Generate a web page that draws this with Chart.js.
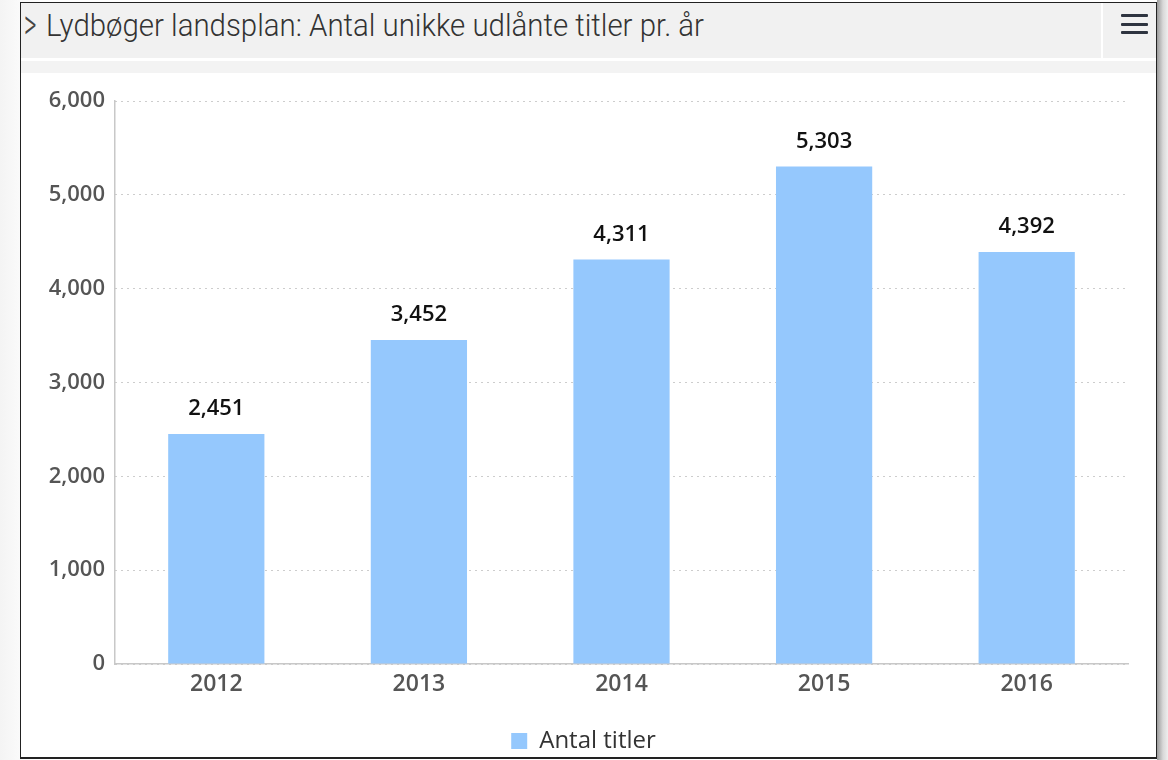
<!DOCTYPE html>
<html><head><meta charset="utf-8">
<script src="https://cdn.jsdelivr.net/npm/chart.js@4"></script>
<style>
html,body{margin:0;padding:0;width:1168px;height:760px;overflow:hidden;background:#fff;}
#shadow{position:absolute;left:0;top:0;width:1168px;height:760px;background:linear-gradient(to right,#f4f4f4 0,#fafafa 20px,#fff 40px);}
#shadowR{position:absolute;left:1157px;top:0;width:11px;height:760px;background:linear-gradient(to right,#9a9a9a,#d8d8d8 6px,#eee);}
#frame{position:absolute;left:20px;top:2px;width:1135px;height:754px;border:1.5px solid #222;border-bottom:2px solid #222;background:#fff;}
#titlebar{position:absolute;left:0;top:0;width:1080px;height:55px;background:#f1f1f1;}
#menu{position:absolute;left:1082px;top:0;width:53px;height:55px;background:#f1f1f1;}
#band{position:absolute;left:0;top:58px;width:1135px;height:12px;background:#f3f3f3;}
#chev{position:absolute;left:3px;top:0px;font-family:Roboto,sans-serif;font-weight:300;font-size:32px;line-height:44px;color:#444;transform-origin:0 50%;transform:scale(0.75,1.3);}
#title{position:absolute;left:25px;top:0px;font-family:Roboto,"Noto Sans",sans-serif;font-weight:300;font-size:32px;line-height:44px;color:#333;white-space:nowrap;transform-origin:0 0;}
.hb{position:absolute;left:18px;width:27px;height:2.5px;background:#2e3440;border-radius:1px;}
#wrap{position:absolute;left:0;top:70px;width:1135px;height:690px;}
</style></head>
<body>
<div id="shadow"></div><div id="shadowR"></div>
<div id="frame">
  <div id="titlebar"><div id="chev">&gt;</div><div id="title">Lydbøger landsplan: Antal unikke udlånte titler pr. år</div></div>
  <div id="menu"><div class="hb" style="top:11px"></div><div class="hb" style="top:20px"></div><div class="hb" style="top:28px"></div></div>
  <div id="band"></div>
  <div id="wrap"><canvas id="c" width="1135" height="690"></canvas></div>
</div>
<script>
const categories = ["2012","2013","2014","2015","2016"];
const seriesName = "Antal titler";
const values = [2451, 3452, 4311, 5303, 4392];
const yTicks = [0,1000,2000,3000,4000,5000,6000];

(function(){const t=document.getElementById('title');const w=t.getBoundingClientRect().width;t.style.transform='scaleX('+(658/w)+')';})();

const fmt = v => v.toLocaleString('en-US');
const FONT = '"Open Sans","Noto Sans",sans-serif';

const labelPlugin = {
  id:'vlabels',
  afterDatasetsDraw(chart){
    const ctx = chart.ctx;
    const meta = chart.getDatasetMeta(0);
    ctx.save();
    ctx.font = '600 22px '+FONT;
    ctx.fillStyle = '#111';
    ctx.textAlign = 'center';
    ctx.textBaseline = 'middle';
    meta.data.forEach((el,i)=>{
      ctx.fillText(fmt(values[i]), el.x, el.y - 25);
    });
    ctx.restore();
  }
};

new Chart(document.getElementById('c'),{
  type:'bar',
  data:{labels:categories,datasets:[{label:seriesName,data:values,backgroundColor:'#95c8fd',borderWidth:0,categoryPercentage:0.95,barPercentage:0.5}]},
  options:{
    responsive:false,animation:false,devicePixelRatio:1,
    layout:{padding:{top:28,right:28,left:18,bottom:0}},
    plugins:{
      legend:{position:'bottom',labels:{boxWidth:16,boxHeight:16,padding:10,color:'#333',font:{family:FONT,size:24,weight:'500'}}},
      tooltip:{enabled:false}
    },
    scales:{
      x:{grid:{display:false,drawTicks:false},border:{color:'#c8c8c8',width:1.5},
        ticks:{color:'#555',font:{family:FONT,size:23,weight:'600'},padding:7},
        afterFit(s){s.height=55;}},
      y:{min:0,max:6000,afterBuildTicks(s){s.ticks=yTicks.map(v=>({value:v}));},
        afterFit(s){s.width=76;},
        grid:{color:'#9a9a9a',lineWidth:1,drawTicks:false},
        border:{color:'#c8c8c8',width:1.5,dash:[1,5]},
        ticks:{color:'#555',font:{family:FONT,size:22,weight:'600'},padding:10,callback:v=>fmt(v)}}
    }
  },
  plugins:[labelPlugin]
});
</script>
</body></html>
